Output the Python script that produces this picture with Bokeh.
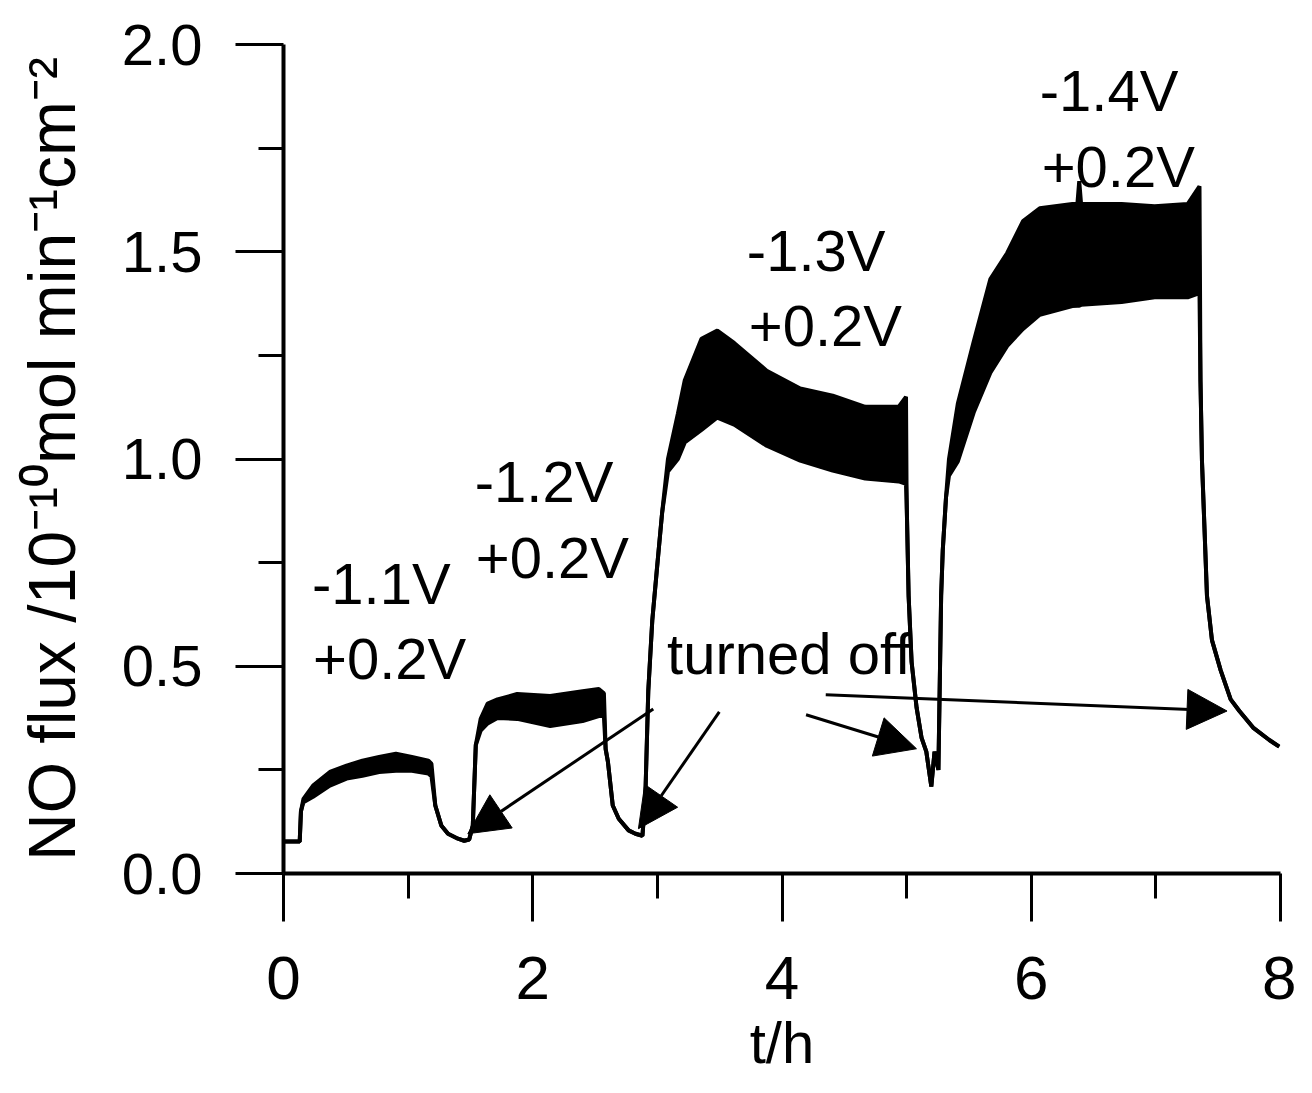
import numpy as np
from bokeh.plotting import figure
from bokeh.models import Range1d, FixedTicker, Arrow, NormalHead, NumeralTickFormatter
from bokeh.embed import file_html
from bokeh.resources import INLINE
from bokeh.core.properties import value

# ---- data: time (h) and lower / upper edge of the NO flux trace ----
t_h = [0.000, 0.130, 0.140, 0.160, 0.237, 0.372, 0.506, 0.633, 0.767, 0.902, 1.030, 1.163, 1.187,
       1.218, 1.266, 1.320, 1.400, 1.450, 1.490, 1.519, 1.543, 1.582, 1.638, 1.717, 1.875, 2.140,
       2.400, 2.530, 2.571, 2.585, 2.603, 2.642, 2.690, 2.769, 2.824, 2.880, 2.903, 2.927, 2.959,
       2.998, 3.038, 3.085, 3.165, 3.220, 3.354, 3.481, 3.616, 3.877, 4.146, 4.407, 4.668, 4.937,
       4.995, 5.000, 5.016, 5.040, 5.080, 5.120, 5.158, 5.198, 5.224, 5.255, 5.277, 5.290, 5.316,
       5.340, 5.411, 5.538, 5.672, 5.807, 5.934, 6.068, 6.330, 6.370, 6.385, 6.400, 6.725, 6.990,
       7.255, 7.350, 7.358, 7.370, 7.390, 7.410, 7.450, 7.520, 7.600, 7.670, 7.780, 7.910, 7.990]
flux_lo = [0.077, 0.077, 0.150, 0.172, 0.185, 0.212, 0.229, 0.236, 0.245, 0.248, 0.248, 0.241, 0.235,
           0.164, 0.116, 0.096, 0.084, 0.079, 0.082, 0.116, 0.310, 0.345, 0.362, 0.375, 0.373, 0.356,
           0.368, 0.380, 0.380, 0.300, 0.270, 0.164, 0.132, 0.104, 0.096, 0.091, 0.180, 0.440, 0.610,
           0.740, 0.870, 0.970, 1.000, 1.040, 1.070, 1.100, 1.083, 1.032, 0.996, 0.972, 0.953, 0.946,
           0.940, 0.900, 0.670, 0.510, 0.400, 0.327, 0.294, 0.210, 0.294, 0.250, 0.670, 0.780, 0.907,
           0.960, 0.994, 1.112, 1.208, 1.273, 1.314, 1.348, 1.369, 1.370, 1.370, 1.372, 1.379, 1.390,
           1.390, 1.400, 1.187, 0.994, 0.833, 0.670, 0.563, 0.490, 0.420, 0.392, 0.352, 0.322, 0.306]
flux_hi = [0.077, 0.077, 0.150, 0.180, 0.212, 0.245, 0.260, 0.272, 0.281, 0.289, 0.281, 0.272, 0.265,
           0.164, 0.116, 0.096, 0.084, 0.079, 0.082, 0.116, 0.310, 0.373, 0.410, 0.420, 0.433, 0.428,
           0.440, 0.445, 0.435, 0.300, 0.270, 0.164, 0.132, 0.104, 0.096, 0.091, 0.180, 0.440, 0.610,
           0.740, 0.870, 1.000, 1.110, 1.190, 1.290, 1.310, 1.280, 1.213, 1.170, 1.153, 1.126, 1.126,
           1.150, 0.900, 0.670, 0.510, 0.400, 0.327, 0.294, 0.210, 0.294, 0.250, 0.670, 0.780, 0.907,
           1.000, 1.134, 1.283, 1.434, 1.497, 1.574, 1.605, 1.615, 1.615, 1.670, 1.615, 1.615, 1.610,
           1.615, 1.658, 1.187, 0.994, 0.833, 0.670, 0.563, 0.490, 0.420, 0.392, 0.352, 0.322, 0.306]

x_ticks = [0, 2, 4, 6, 8]
x_minor_ticks = [1, 3, 5, 7]
y_ticks = [0.0, 0.5, 1.0, 1.5, 2.0]
y_minor_ticks = [0.25, 0.75, 1.25, 1.75]
x_title = "t/h"
y_title = "NO flux /10\u207b\u00b9\u2070mol min\u207b\u00b9cm\u207b\u00b2"

# annotation texts (potential steps) and "turned off" arrows
ann_text = ["-1.1V", "+0.2V", "-1.2V", "+0.2V", "-1.3V", "+0.2V", "-1.4V", "+0.2V", "turned off"]
ann_x = [0.229, 0.237, 1.535, 1.543, 3.718, 3.734, 6.068, 6.084, 3.078]
ann_y = [0.700, 0.519, 0.945, 0.763, 1.503, 1.321, 1.888, 1.706, 0.530]
arrows = [  # (x_start, y_start, x_end, y_end)
    (2.967, 0.397, 1.479, 0.096),
    (3.497, 0.390, 2.848, 0.108),
    (4.193, 0.383, 5.079, 0.301),
    (4.351, 0.431, 7.571, 0.392),
]

FONT = "Liberation Sans"

p = figure(width=1296, height=1077, output_backend="svg", toolbar_location=None,
           x_range=Range1d(0, 8), y_range=Range1d(0, 2.0),
           min_border_left=283, min_border_right=16, min_border_top=44, min_border_bottom=202)
p.grid.visible = False
p.outline_line_color = None
p.background_fill_color = "white"
p.border_fill_color = "white"

# trace: noise band filled between its edges, edges stroked
p.varea(x=t_h, y1=flux_lo, y2=flux_hi, fill_color="black")
p.line(t_h, flux_lo, line_color="black", line_width=4)
p.line(t_h, flux_hi, line_color="black", line_width=4)

# annotations
p.text(x=ann_x, y=ann_y, text=ann_text, text_font=value(FONT), text_font_size=value("58px"),
       text_color="black", text_align="left", text_baseline="alphabetic")
for xs, ys, xe, ye in arrows:
    p.add_layout(Arrow(end=NormalHead(size=40, fill_color="black", line_color="black"),
                       x_start=xs, y_start=ys, x_end=xe, y_end=ye,
                       line_color="black", line_width=3))

# axes
for ax in (p.xaxis[0], p.yaxis[0]):
    ax.axis_line_width = 4
    ax.axis_line_color = "black"
    ax.major_tick_line_width = 3
    ax.minor_tick_line_width = 3
    ax.major_tick_line_color = "black"
    ax.minor_tick_line_color = "black"
    ax.major_tick_out = 48
    ax.major_tick_in = 0
    ax.minor_tick_out = 25
    ax.minor_tick_in = 0
    ax.major_label_text_font = FONT
    ax.major_label_text_color = "black"
    ax.major_label_text_font_style = "normal"
    ax.axis_label_text_font = FONT
    ax.axis_label_text_font_style = "normal"
    ax.axis_label_text_color = "black"

p.xaxis.ticker = FixedTicker(ticks=x_ticks, minor_ticks=x_minor_ticks)
p.yaxis.ticker = FixedTicker(ticks=y_ticks, minor_ticks=y_minor_ticks)
p.yaxis.formatter = NumeralTickFormatter(format="0.0")
p.xaxis.major_label_text_font_size = "62px"
p.yaxis.major_label_text_font_size = "58px"
p.xaxis.major_label_standoff = 35
p.yaxis.major_label_standoff = 33

p.xaxis.axis_label = x_title
p.xaxis.axis_label_text_font_size = "58px"
p.xaxis.axis_label_standoff = 8
p.yaxis.axis_label = y_title
p.yaxis.axis_label_text_font_size = "66px"
p.yaxis.axis_label_standoff = 30

open("out.html", "w").write(file_html(p, INLINE))
